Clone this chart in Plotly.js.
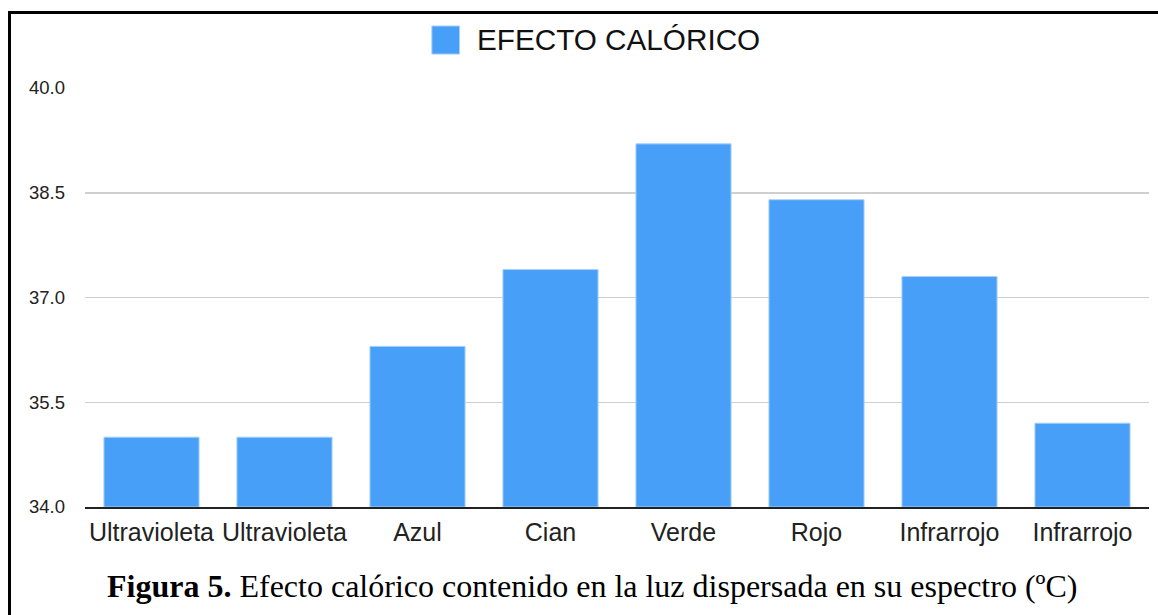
<!DOCTYPE html>
<html>
<head>
<meta charset="utf-8">
<script src="https://cdn.plot.ly/plotly-3.0.1.min.js"></script>
<style>
  html, body { margin: 0; padding: 0; background: #fff; }
  #wrap { position: relative; width: 1158px; height: 615px; overflow: hidden; }
  #chart { position: absolute; left: 0; top: 0; width: 1158px; height: 615px; }
  #frame { position: absolute; left: 8px; top: 11px; width: 2000px; height: 2000px;
           border-left: 3px solid #000; border-top: 3px solid #000; pointer-events: none; }
</style>
</head>
<body>
<div id="wrap">
  <div id="chart"></div>
  <div id="frame"></div>
</div>
<script>
const categories = ["Ultravioleta", "Ultravioleta", "Azul", "Cian", "Verde", "Rojo", "Infrarrojo", "Infrarrojo"];
const values = [35.0, 35.0, 36.3, 37.4, 39.2, 38.4, 37.3, 35.2];
const seriesName = "EFECTO CALÓRICO";
const yTicks = [34.0, 35.5, 37.0, 38.5, 40.0];
const yTickLabels = ["34.0", "35.5", "37.0", "38.5", "40.0"];
const caption = "<b>Figura 5.</b> Efecto calórico contenido en la luz dispersada en su espectro (ºC)";

const positions = categories.map((c, i) => i);
const barColor = "#479ff8";

const trace = {
  type: "bar",
  name: seriesName,
  x: positions,
  y: values.map(v => v - yTicks[0]),
  base: yTicks[0],
  marker: { color: barColor, line: { color: "#a6d0fb", width: 1 } },
  showlegend: false,
  hoverinfo: "skip"
};

const layout = {
  width: 1158,
  height: 615,
  margin: { l: 85, r: 9, t: 88, b: 108 },
  paper_bgcolor: "#ffffff",
  plot_bgcolor: "#ffffff",
  bargap: 0.285,
  font: { family: "Liberation Sans, Arial, sans-serif", color: "#222" },
  xaxis: {
    tickmode: "array",
    tickvals: positions,
    ticktext: categories,
    range: [-0.5, categories.length - 0.5],
    showgrid: false,
    zeroline: false,
    showline: true,
    linecolor: "#222",
    linewidth: 2,
    ticks: "",
    tickfont: { size: 25, color: "#222" },
    ticklabelstandoff: 2
  },
  yaxis: {
    range: [34, 40],
    tickmode: "array",
    tickvals: yTicks,
    ticktext: yTickLabels,
    showgrid: true,
    gridcolor: "#cfcfcf",
    gridwidth: 1.5,
    zeroline: false,
    showline: false,
    ticks: "",
    tickfont: { size: 18.5, color: "#222" },
    ticklabelstandoff: 19
  },
  shapes: [
    { type: "rect", xref: "paper", yref: "paper",
      x0: 0.326, x1: 0.352, y0: 1.081, y1: 1.148,
      fillcolor: barColor, line: { color: "#a6d0fb", width: 1 } }
  ],
  annotations: [
    { xref: "paper", yref: "paper", x: 0.367, y: 1.115, xanchor: "left", yanchor: "middle",
      text: seriesName, showarrow: false,
      font: { size: 29.7, family: "Liberation Sans, Arial, sans-serif", color: "#111" } },
    { xref: "paper", yref: "paper", x: 0.4765, y: -0.188, xanchor: "center", yanchor: "middle",
      text: caption, showarrow: false,
      font: { size: 32, family: "Liberation Serif, Times New Roman, serif", color: "#000" } }
  ]
};

Plotly.newPlot("chart", [trace], layout, { staticPlot: true, displayModeBar: false });
</script>
</body>
</html>
